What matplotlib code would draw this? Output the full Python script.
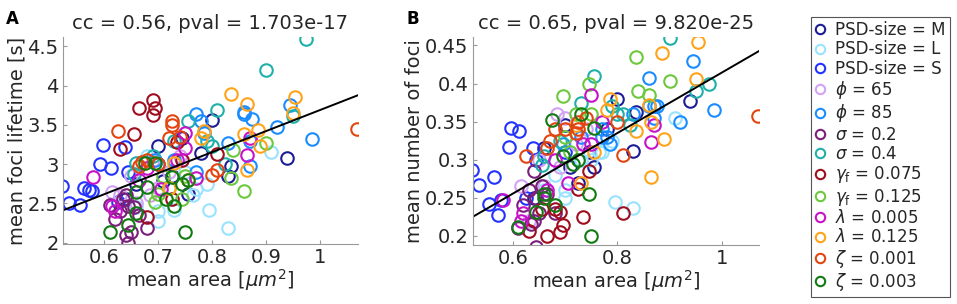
import numpy as np
import matplotlib
matplotlib.use("Agg")
import matplotlib.pyplot as plt

# groups: label, colour, mean area, lifetime (A), number of foci (B)
labels = ["PSD-size = M", "PSD-size = L", "PSD-size = S", r"$\phi$ = 65", r"$\phi$ = 85",
          r"$\sigma$ = 0.2", r"$\sigma$ = 0.4", r"$\gamma_\mathrm{f}$ = 0.075",
          r"$\gamma_\mathrm{f}$ = 0.125", r"$\lambda$ = 0.005", r"$\lambda$ = 0.125",
          r"$\zeta$ = 0.001", r"$\zeta$ = 0.003"]
colors = ["#1c1c96", "#99e3ff", "#2233ff", "#d1a3f2", "#1a8cff", "#7a1f7a", "#1fb0aa",
          "#a00d1e", "#6cc83c", "#c812c8", "#ffa41a", "#e2450f", "#127a12"]

area_M = [0.80, 0.70, 0.745, 0.78, 0.835, 0.83, 0.94, 0.725, 0.755, 0.66, 0.71, 0.64]
life_M = [3.56, 3.23, 3.33, 3.14, 2.98, 2.85, 3.08, 2.85, 2.62, 2.75, 2.78, 2.55]
foci_M = [0.38, 0.345, 0.31, 0.34, 0.362, 0.312, 0.377, 0.27, 0.29, 0.315, 0.29, 0.25]

area_L = [0.83, 0.795, 0.91, 0.77, 0.79, 0.70, 0.70, 0.73, 0.765, 0.68, 0.75, 0.66]
life_L = [2.19, 2.41, 3.15, 2.68, 2.75, 2.28, 2.40, 2.42, 2.60, 3.10, 2.90, 2.45]
foci_L = [0.236, 0.245, 0.355, 0.31, 0.325, 0.25, 0.26, 0.30, 0.31, 0.28, 0.30, 0.26]

area_S = [0.522, 0.534, 0.555, 0.563, 0.572, 0.578, 0.593, 0.597, 0.612, 0.625, 0.638, 0.645, 0.70]
life_S = [2.72, 2.50, 2.48, 2.70, 2.67, 2.66, 3.00, 3.24, 2.95, 2.52, 3.22, 2.90, 3.00]
foci_S = [0.287, 0.267, 0.242, 0.277, 0.228, 0.247, 0.317, 0.342, 0.338, 0.250, 0.315, 0.30, 0.31]

area_phi65 = [0.615, 0.66, 0.685, 0.70, 0.74, 0.65, 0.72, 0.69, 0.63]
life_phi65 = [2.65, 2.50, 2.60, 2.70, 3.10, 2.85, 2.90, 3.05, 2.60]
foci_phi65 = [0.265, 0.265, 0.36, 0.355, 0.34, 0.30, 0.32, 0.29, 0.22]

area_phi85 = [0.77, 0.78, 0.785, 0.86, 0.86, 0.875, 0.92, 0.945, 0.985, 0.83, 0.87, 0.77, 0.73, 0.695, 0.87]
life_phi85 = [3.64, 3.55, 3.40, 3.64, 3.67, 3.57, 3.47, 3.76, 3.32, 3.27, 2.98, 2.90, 3.05, 3.05, 3.30]
foci_phi85 = [0.34, 0.33, 0.32, 0.37, 0.407, 0.37, 0.35, 0.43, 0.365, 0.36, 0.355, 0.33, 0.33, 0.32, 0.37]

area_sig02 = [0.645, 0.64, 0.65, 0.68, 0.62, 0.63, 0.645, 0.64, 0.655, 0.665, 0.61, 0.635]
life_sig02 = [1.99, 2.10, 2.13, 2.18, 2.30, 2.40, 2.47, 2.60, 2.45, 2.35, 2.48, 2.55]
foci_sig02 = [0.185, 0.22, 0.23, 0.23, 0.24, 0.26, 0.25, 0.285, 0.265, 0.255, 0.21, 0.215]

area_sig04 = [0.975, 0.90, 0.81, 0.755, 0.79, 0.80, 0.66, 0.655, 0.825, 0.95, 0.73, 0.69]
life_sig04 = [4.60, 4.20, 3.69, 3.55, 3.30, 3.23, 3.02, 2.88, 3.00, 3.62, 3.30, 3.10]
foci_sig04 = [0.40, 0.46, 0.36, 0.41, 0.37, 0.36, 0.305, 0.293, 0.345, 0.39, 0.375, 0.325]

area_g075 = [0.69, 0.665, 0.695, 0.69, 0.63, 0.655, 0.81, 0.745, 0.68, 0.725, 0.735]
life_g075 = [3.82, 3.72, 3.72, 3.63, 3.19, 3.39, 3.13, 3.05, 2.32, 2.55, 3.28]
foci_g075 = [0.205, 0.20, 0.214, 0.232, 0.207, 0.235, 0.23, 0.285, 0.235, 0.262, 0.225]

area_g125 = [0.90, 0.84, 0.835, 0.86, 0.745, 0.695, 0.71, 0.75, 0.72, 0.70]
life_g125 = [3.27, 3.18, 2.82, 2.66, 2.55, 2.52, 2.85, 2.85, 2.70, 2.62]
foci_g125 = [0.403, 0.39, 0.435, 0.385, 0.40, 0.383, 0.31, 0.36, 0.36, 0.33]

area_l005 = [0.58, 0.615, 0.62, 0.665, 0.705, 0.75, 0.75, 0.77, 0.865, 0.87, 0.735, 0.68]
life_l005 = [2.84, 2.46, 2.40, 2.80, 2.68, 3.40, 3.20, 2.82, 3.12, 3.33, 3.05, 2.95]
foci_l005 = [0.247, 0.22, 0.23, 0.26, 0.27, 0.385, 0.32, 0.35, 0.323, 0.345, 0.32, 0.30]

area_l125 = [0.835, 0.865, 0.955, 0.95, 0.885, 0.86, 0.865, 0.89, 0.785, 0.78, 0.73, 0.755, 0.72]
life_l125 = [3.89, 3.77, 3.85, 3.65, 3.44, 3.38, 2.93, 3.23, 3.42, 3.33, 3.02, 2.80, 2.70]
foci_l125 = [0.338, 0.35, 0.455, 0.406, 0.44, 0.372, 0.277, 0.327, 0.38, 0.365, 0.27, 0.31, 0.345]

area_z001 = [1.07, 0.625, 0.725, 0.725, 0.74, 0.72, 0.665, 0.67, 0.68, 0.80, 0.81, 0.70]
life_z001 = [3.45, 3.42, 3.55, 3.50, 3.35, 3.33, 2.98, 3.03, 3.05, 2.86, 2.93, 3.00]
foci_z001 = [0.357, 0.305, 0.35, 0.34, 0.355, 0.335, 0.315, 0.325, 0.34, 0.35, 0.306, 0.34]

area_z003 = [0.61, 0.645, 0.75, 0.66, 0.66, 0.68, 0.675, 0.695, 0.725, 0.715, 0.73, 0.755, 0.745]
life_z003 = [2.13, 2.22, 2.14, 2.38, 2.65, 2.71, 3.02, 3.01, 2.84, 2.55, 2.46, 2.80, 2.75]
foci_z003 = [0.212, 0.232, 0.20, 0.25, 0.255, 0.24, 0.352, 0.305, 0.30, 0.295, 0.36, 0.342, 0.255]

areas = [area_M, area_L, area_S, area_phi65, area_phi85, area_sig02, area_sig04,
         area_g075, area_g125, area_l005, area_l125, area_z001, area_z003]
lifetimes = [life_M, life_L, life_S, life_phi65, life_phi85, life_sig02, life_sig04,
             life_g075, life_g125, life_l005, life_l125, life_z001, life_z003]
nfoci = [foci_M, foci_L, foci_S, foci_phi65, foci_phi85, foci_sig02, foci_sig04,
         foci_g075, foci_g125, foci_l005, foci_l125, foci_z001, foci_z003]

# regression lines (slope, intercept)
fit_A = (2.68, 1.008)
fit_B = (0.397, 0.0174)
titles = ["cc = 0.56, pval = 1.703e-17", "cc = 0.65, pval = 9.820e-25"]
xlim = (0.523, 1.071)

fig = plt.figure(figsize=(9.57, 3.04), dpi=100)
axA = fig.add_axes([0.0655, 0.197, 0.3085, 0.681])
axB = fig.add_axes([0.494, 0.194, 0.299, 0.684])

txt = "#262626"
fs = 14
for ax, ys, fit, title, ylab in [(axA, lifetimes, fit_A, titles[0], "mean foci lifetime [s]"),
                                 (axB, nfoci, fit_B, titles[1], "mean number of foci")]:
    for xs, yv, c, lab in zip(areas, ys, colors, labels):
        ax.plot(xs, yv, "o", ls="none", mfc="none", mec=c, mew=1.5, ms=9, label=lab)
    xx = np.array(xlim)
    ax.plot(xx, fit[0] * xx + fit[1], color="black", lw=1.4)
    ax.set_xlim(xlim)
    ax.set_title(title, fontsize=fs, color=txt, pad=6)
    ax.set_xlabel(r"mean area [$\mu m^2$]", fontsize=fs, color=txt, labelpad=0)
    ax.set_ylabel(ylab, fontsize=fs, color=txt, labelpad=1)
    for s in ["top", "right"]:
        ax.spines[s].set_visible(False)
    for s in ["left", "bottom"]:
        ax.spines[s].set_color("#999999")
    ax.tick_params(direction="in", length=3, color="#999999", labelsize=fs, labelcolor=txt, pad=3)

axA.set_ylim(1.98, 4.62)
axA.set_yticks([2, 2.5, 3, 3.5, 4, 4.5])
axA.set_yticklabels(["2", "2.5", "3", "3.5", "4", "4.5"])
axA.set_xticks([0.6, 0.7, 0.8, 0.9, 1.0])
axA.set_xticklabels(["0.6", "0.7", "0.8", "0.9", "1"])
axB.set_ylim(0.188, 0.461)
axB.set_yticks([0.2, 0.25, 0.3, 0.35, 0.4, 0.45])
axB.set_yticklabels(["0.2", "0.25", "0.3", "0.35", "0.4", "0.45"])
axB.set_xticks([0.6, 0.8, 1.0])
axB.set_xticklabels(["0.6", "0.8", "1"])

fig.text(0.006, 0.968, "A", fontsize=12, fontweight="bold", va="top")
fig.text(0.425, 0.968, "B", fontsize=12, fontweight="bold", va="top")

h, l = axA.get_legend_handles_labels()
leg = fig.legend(h, l, loc="upper left", bbox_to_anchor=(0.839, 0.972), fontsize=12,
                 fancybox=False, edgecolor="#555555", framealpha=1, handlelength=0.6,
                 handletextpad=0.6, labelspacing=0.08, borderpad=0.25, markerscale=0.75)
leg.get_frame().set_linewidth(0.8)
for t in leg.get_texts():
    t.set_color(txt)

fig.savefig("out.png", dpi=100)
